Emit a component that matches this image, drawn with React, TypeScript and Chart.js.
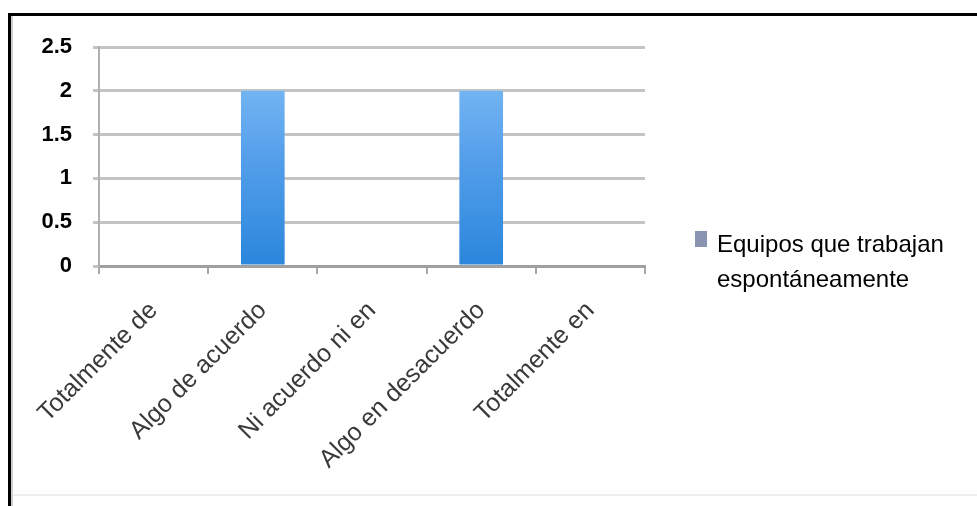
import React, { useEffect, useRef } from "react";
import { Chart, registerables } from "chart.js";

Chart.register(...registerables);

const categories = [
  "Totalmente de",
  "Algo de acuerdo",
  "Ni acuerdo ni en",
  "Algo en desacuerdo",
  "Totalmente en",
];
const seriesLabel = "Equipos que trabajan espontáneamente";
const legendLines = ["Equipos que trabajan", "espontáneamente"];
const values = [0, 2, 0, 2, 0];
const yTicks = [0, 0.5, 1, 1.5, 2, 2.5];

const frame = {
  id: "frame",
  beforeDraw(chart: any) {
    const ctx = chart.ctx;
    ctx.save();
    ctx.fillStyle = "#ffffff";
    ctx.fillRect(0, 0, chart.width, chart.height);
    ctx.fillStyle = "#000000";
    ctx.fillRect(8, 13, chart.width - 8, 3);
    ctx.fillRect(8, 13, 3, chart.height - 13);
    ctx.fillStyle = "#d0d0d0";
    ctx.fillRect(11, 16, 2, chart.height - 16);
    ctx.fillStyle = "#eeeeee";
    ctx.fillRect(13, 494, chart.width - 13, 2);
    ctx.restore();
  },
  afterDraw(chart: any) {
    const ctx = chart.ctx;
    ctx.save();
    ctx.fillStyle = "#8a94b0";
    ctx.fillRect(695, 231, 12, 16);
    ctx.fillStyle = "#000000";
    ctx.font = "24px 'Liberation Sans', Arial, sans-serif";
    ctx.textBaseline = "middle";
    ctx.textAlign = "left";
    ctx.fillText(legendLines[0], 717, 245);
    ctx.fillText(legendLines[1], 717, 280);
    ctx.restore();
  },
};

export default function App() {
  const ref = useRef<HTMLCanvasElement>(null);
  useEffect(() => {
    document.body.style.margin = "0";
    const canvas = ref.current!;
    const chart = new Chart(canvas, {
      type: "bar",
      data: {
        labels: categories,
        datasets: [
          {
            label: seriesLabel,
            data: values,
            backgroundColor: (c: any) => {
              const area = c.chart.chartArea;
              if (!area) return "#4a9be8";
              const g = c.chart.ctx.createLinearGradient(0, area.top, 0, area.bottom);
              g.addColorStop(0, "#86c2f8");
              g.addColorStop(0.5, "#559fea");
              g.addColorStop(1, "#2a86dc");
              return g;
            },
            barPercentage: 0.4,
            categoryPercentage: 1,
          },
        ],
      },
      options: {
        animation: false,
        responsive: false,
        layout: { padding: { left: 0, right: 332, top: 47, bottom: 0 } },
        plugins: { legend: { display: false }, tooltip: { enabled: false } },
        scales: {
          x: {
            grid: {
              drawOnChartArea: false,
              color: "#a8a8a8",
              lineWidth: 2,
              tickLength: 8,
            },
            border: { color: "#a0a0a0", width: 3 },
            ticks: {
              autoSkip: false,
              minRotation: 45,
              maxRotation: 45,
              color: "#3a3a3a",
              padding: 22,
              font: { family: "'Liberation Sans', Arial, sans-serif", size: 25 },
            },
            afterFit: (s: any) => {
              s.height = 240;
            },
          },
          y: {
            min: 0,
            max: 2.5,
            afterBuildTicks: (s: any) => {
              s.ticks = yTicks.map((v) => ({ value: v }));
            },
            grid: { color: "#c4c4c4", lineWidth: 3, tickLength: 6 },
            border: { color: "#b0b0b0", width: 2 },
            ticks: {
              color: "#000000",
              padding: 21,
              callback: (v: any) => String(v),
              font: { family: "'Liberation Sans', Arial, sans-serif", size: 22, weight: "bold" },
            },
            afterFit: (s: any) => {
              s.width = 99;
            },
          },
        },
      },
      plugins: [frame],
    });
    return () => chart.destroy();
  }, []);
  return (
    <div style={{ position: "relative", width: 977, height: 506 }}>
      <canvas ref={ref} width={977} height={506} style={{ display: "block" }} />
    </div>
  );
}
